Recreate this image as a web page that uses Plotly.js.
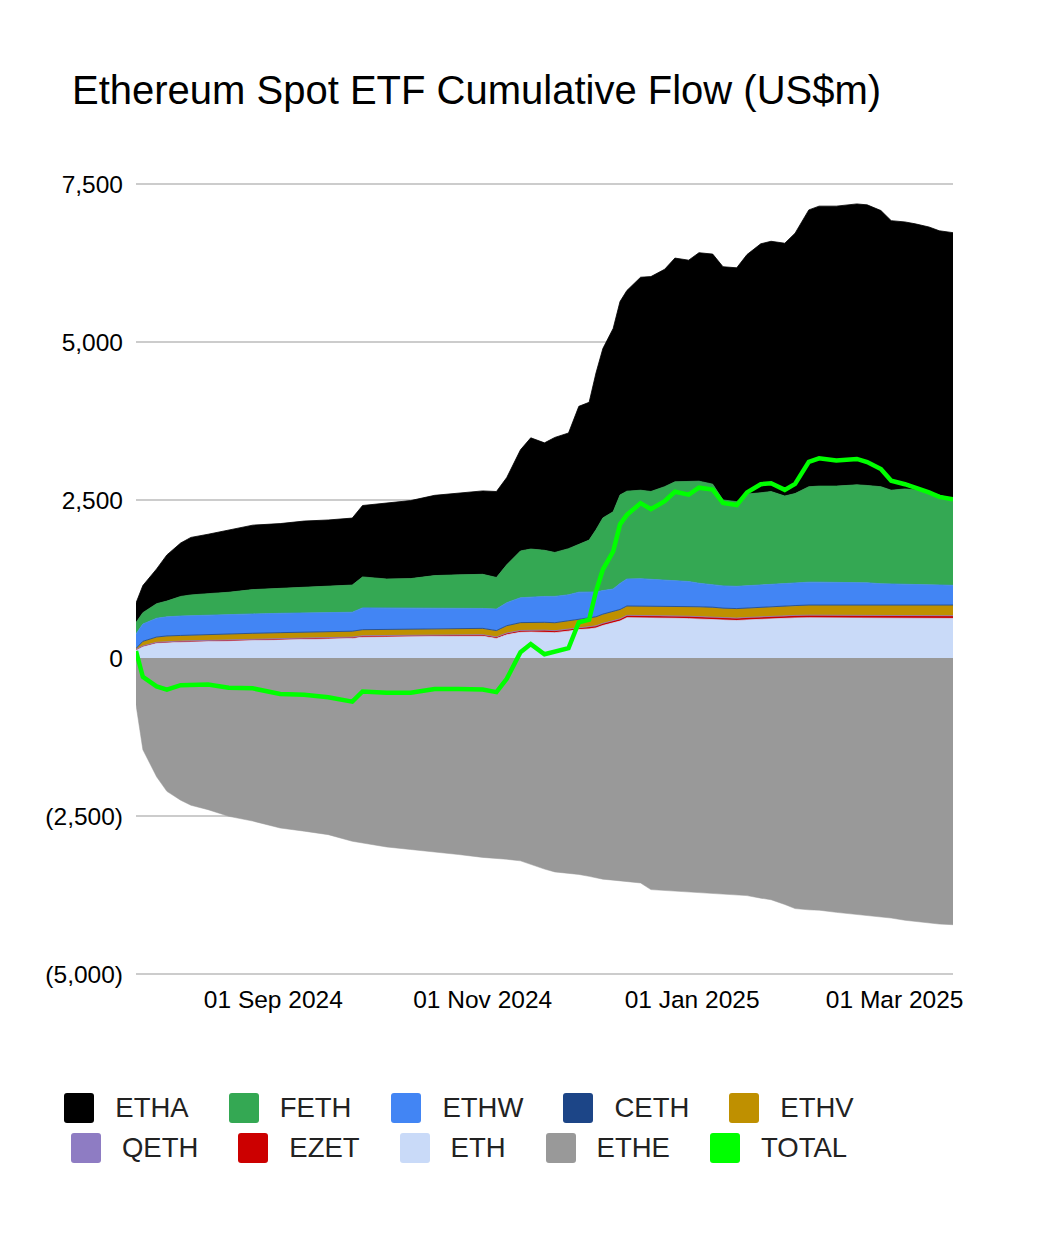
<!DOCTYPE html>
<html>
<head>
<meta charset="utf-8">
<script src="https://cdn.plot.ly/plotly-3.0.1.min.js"></script>
<style>
  html, body { margin: 0; padding: 0; background: #fff; }
  #wrap { position: relative; width: 1046px; height: 1248px; }
  #chart { width: 1046px; height: 1248px; }
  #legend { position: absolute; left: 0; top: 1093px; width: 918px; font-family: "Liberation Sans", Arial, sans-serif; }
  .lg-row { display: flex; justify-content: center; height: 30px; margin-bottom: 10px; }
  .lg-item { display: flex; align-items: center; margin: 0 20px; }
  .lg-sw { width: 30px; height: 30px; border-radius: 3px; margin-right: 21px; }
  .lg-tx { font-size: 27.5px; color: #222; }
</style>
</head>
<body>
<div id="wrap">
  <div id="chart"></div>
  <div id="legend"></div>
</div>
<script>
// cumulative flows, US$m
const dates = ['2024-07-23','2024-07-25','2024-07-29','2024-08-01','2024-08-05','2024-08-08','2024-08-13','2024-08-19','2024-08-26',
  '2024-09-03','2024-09-10','2024-09-17','2024-09-24','2024-09-27','2024-10-04','2024-10-11','2024-10-18','2024-10-25',
  '2024-11-01','2024-11-05','2024-11-08','2024-11-12','2024-11-15','2024-11-19','2024-11-22','2024-11-26','2024-11-29',
  '2024-12-02','2024-12-04','2024-12-06','2024-12-09','2024-12-11','2024-12-13','2024-12-17','2024-12-20','2024-12-24','2024-12-27','2024-12-31',
  '2025-01-03','2025-01-07','2025-01-10','2025-01-14','2025-01-17','2025-01-21','2025-01-24','2025-01-28','2025-01-31',
  '2025-02-04','2025-02-07','2025-02-12','2025-02-18','2025-02-21','2025-02-25','2025-02-28',
  '2025-03-04','2025-03-07','2025-03-11','2025-03-14','2025-03-18'];

const eth  = [125,179,233,245,251,255,262,272,280,291,296,302,310,330,332,338,345,345,345,310,368,407,411,411,401,425,450,460,475,514,
  552,584,638,638,638,633,628,623,618,611,598,593,603,614,622,630,634,636,636,636,636,636,636,633,631,631,629,627,626];
const ezet = [10,12,14,15,15,15,16,16,17,18,18,19,19,20,20,20,21,21,21,21,24,26,27,27,28,29,30,30,30,31,
  32,32,33,33,33,34,34,34,35,35,35,35,35,36,36,36,36,37,37,37,37,37,37,37,38,38,38,38,38];
const qeth = [1,1,2,2,2,2,2,2,2,2,2,2,2,3,3,3,3,3,3,3,3,3,3,3,3,4,4,4,4,4,
  4,4,4,4,4,4,4,4,4,4,4,4,4,4,4,4,4,5,5,5,5,5,5,5,5,5,5,5,5];
const ethv = [14,70,80,84,86,88,88,88,88,86,86,86,88,90,90,90,90,92,95,95,110,118,118,118,120,122,128,132,136,138,
  138,140,140,140,140,140,142,144,146,146,144,142,142,142,142,145,148,152,152,152,152,152,152,155,156,156,158,160,161];
const ceth = [1,2,3,3,3,3,4,4,4,4,5,5,5,5,5,5,5,5,5,5,6,6,6,6,6,6,7,7,7,7,
  8,8,8,8,8,8,8,8,8,8,8,8,8,8,8,8,8,8,8,8,8,8,8,8,8,8,8,8,8];
const ethw = [229,273,297,302,307,307,306,308,306,306,305,305,300,345,340,335,330,325,315,340,364,394,399,409,417,414,423,413,393,373,
  358,412,427,432,422,407,402,397,372,352,352,352,352,350,352,360,362,362,362,362,362,352,337,332,327,322,317,314,312];
const feth = [180,180,230,250,310,328,340,350,385,395,410,420,430,490,460,465,510,525,540,500,600,740,760,730,695,730,760,820,985,1150,
  1222,1400,1390,1400,1390,1485,1570,1585,1615,1595,1360,1340,1450,1460,1470,1380,1410,1510,1520,1520,1540,1540,1535,1485,1510,1500,1475,1428,1360];
const etha = [310,430,550,730,845,910,940,990,1020,1025,1045,1045,1060,1130,1200,1235,1270,1295,1320,1360,1380,1600,1760,1700,1820,1830,2180,2180,2480,2680,
  2900,3060,3175,3370,3400,3440,3540,3500,3615,3640,3690,3700,3790,3940,3960,4000,4120,4380,4430,4430,4445,4440,4370,4265,4225,4210,4190,4180,4220];
const ethe = [-740,-1450,-1880,-2110,-2250,-2330,-2400,-2505,-2580,-2690,-2740,-2795,-2900,-2930,-2990,-3030,-3065,-3110,-3155,-3170,-3185,-3210,-3270,-3340,-3385,-3405,-3425,-3455,-3475,-3500,
  -3515,-3525,-3535,-3560,-3665,-3680,-3690,-3705,-3715,-3725,-3735,-3750,-3760,-3800,-3825,-3900,-3965,-3985,-3990,-4025,-4060,-4070,-4090,-4115,-4150,-4170,-4200,-4210,-4220];
const total = [110,-300,-450,-500,-430,-420,-420,-470,-480,-570,-580,-620,-690,-530,-550,-550,-490,-490,-500,-540,-330,90,220,60,105,155,565,605,1055,1400,
  1685,2115,2265,2450,2355,2480,2630,2585,2695,2665,2455,2420,2620,2750,2765,2660,2755,3105,3160,3125,3150,3100,2990,2805,2750,2700,2620,2550,2510];

const yTickVals = [-5000, -2500, 0, 2500, 5000, 7500];
const yTickText = ['(5,000)', '(2,500)', '0', '2,500', '5,000', '7,500'];
const xTickVals = ['2024-09-01', '2024-11-01', '2025-01-01', '2025-03-01'];
const xTickText = ['01 Sep 2024', '01 Nov 2024', '01 Jan 2025', '01 Mar 2025'];

// legend order as in the reference; stacking order is bottom-up below
const legendNames  = ['ETHA','FETH','ETHW','CETH','ETHV','QETH','EZET','ETH','ETHE','TOTAL'];
const legendColors = ['#000000','#34a853','#4285f4','#1c4587','#bf9000','#8e7cc3','#cc0000','#c9daf8','#999999','#00ff00'];
const colorOf = {};
legendNames.forEach((n, i) => colorOf[n] = legendColors[i]);

const FONT = '"Liberation Sans", Arial, sans-serif';

const stack = [['ETH', eth], ['EZET', ezet], ['QETH', qeth], ['ETHV', ethv], ['CETH', ceth],
               ['ETHW', ethw], ['FETH', feth], ['ETHA', etha]];

const traces = [{
  x: dates, y: ethe, name: 'ETHE', type: 'scatter', mode: 'lines',
  stackgroup: 'neg', line: { width: 0.5, color: colorOf.ETHE }, fillcolor: colorOf.ETHE
}];
stack.forEach(([name, vals]) => {
  traces.push({
    x: dates, y: vals, name, type: 'scatter', mode: 'lines',
    stackgroup: 'pos', line: { width: 0.8, color: colorOf[name] }, fillcolor: colorOf[name]
  });
});
traces.push({
  x: dates, y: total, name: 'TOTAL', type: 'scatter', mode: 'lines',
  line: { width: 4.5, color: colorOf.TOTAL }
});

const layout = {
  width: 1046, height: 1248,
  paper_bgcolor: '#ffffff', plot_bgcolor: '#ffffff',
  font: { family: FONT, color: '#000' },
  showlegend: false,
  // range padded a hair so the 7,500 and (5,000) gridlines are drawn
  margin: { l: 136, r: 93, t: 183, b: 273 },
  title: {
    text: 'Ethereum Spot ETF Cumulative Flow (US$m)',
    font: { size: 40, family: FONT, color: '#000' },
    x: 72 / 1046, xref: 'container', xanchor: 'left',
    y: 1 - 90 / 1248, yref: 'container', yanchor: 'middle'
  },
  xaxis: {
    type: 'date', range: ['2024-07-23', '2025-03-18'],
    tickvals: xTickVals, ticktext: xTickText,
    showgrid: false, zeroline: false, showline: false, ticks: '',
    tickfont: { size: 24.5, family: FONT, color: '#000' },
    ticklabelstandoff: 7
  },
  yaxis: {
    range: [-5016, 7516],
    tickvals: yTickVals, ticktext: yTickText,
    showgrid: true, gridcolor: '#cccccc', gridwidth: 2,
    zeroline: false, showline: false, ticks: '',
    tickfont: { size: 24.5, family: FONT, color: '#000' },
    ticklabelstandoff: 12
  }
};

Plotly.newPlot('chart', traces, layout, { displayModeBar: false, staticPlot: true });

// legend, two rows like the reference
const lg = document.getElementById('legend');
[legendNames.slice(0, 5), legendNames.slice(5)].forEach(row => {
  const r = document.createElement('div');
  r.className = 'lg-row';
  row.forEach(n => {
    const it = document.createElement('div');
    it.className = 'lg-item';
    it.innerHTML = `<div class="lg-sw" style="background:${colorOf[n]}"></div><span class="lg-tx">${n}</span>`;
    r.appendChild(it);
  });
  lg.appendChild(r);
});
</script>
</body>
</html>
